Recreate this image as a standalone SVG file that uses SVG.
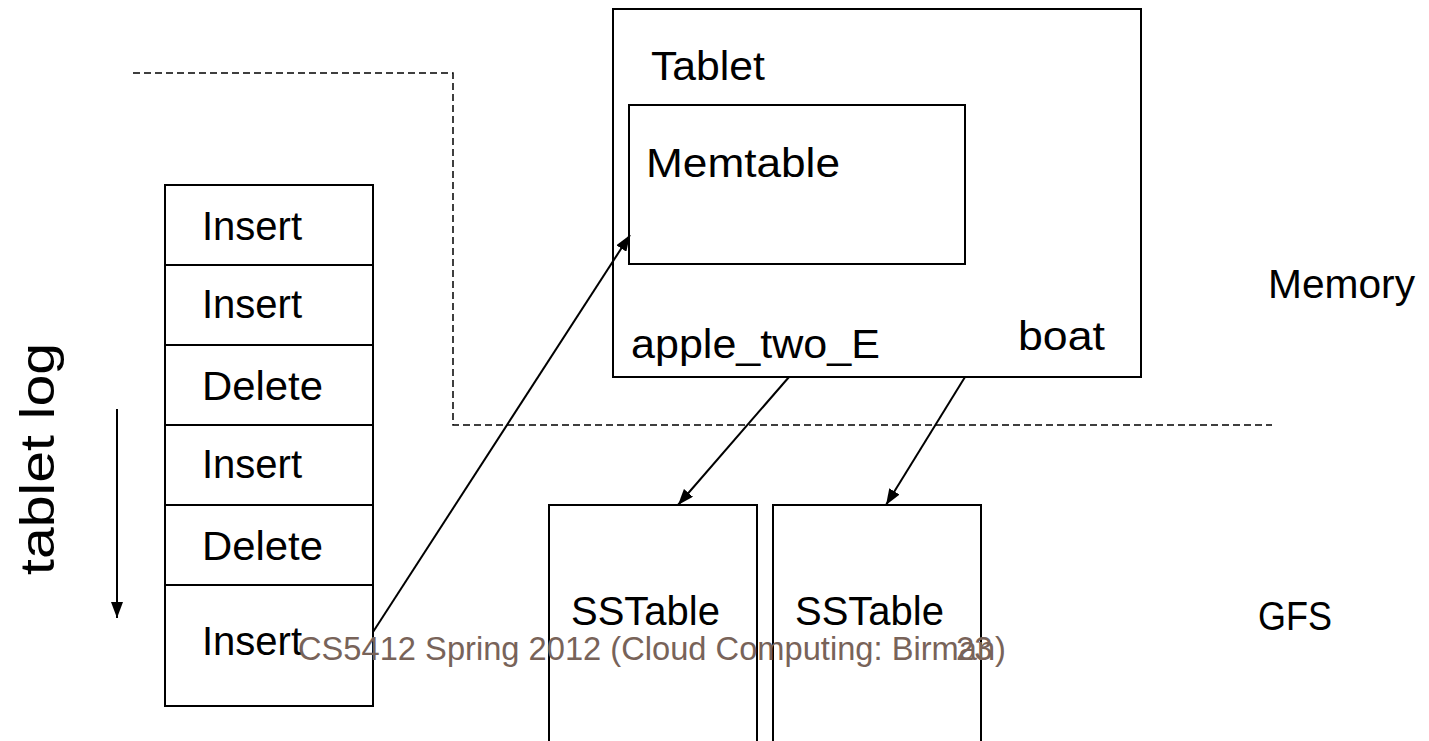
<svg xmlns="http://www.w3.org/2000/svg" width="1429" height="741" viewBox="0 0 1429 741">
<style>
.box{fill:none;stroke:#000;stroke-width:2}
.dash{fill:none;stroke:#000;stroke-width:1.5;stroke-dasharray:7 4}
.conn{fill:none;stroke:#000;stroke-width:2}
.t{font-family:"Liberation Sans",Arial,sans-serif;font-size:40px;fill:#000}
.side{font-family:"Liberation Sans",Arial,sans-serif;font-size:48px;fill:#000}
.foot{font-family:"Liberation Sans",Arial,sans-serif;font-size:33px;fill:#786359}
</style>
<defs>
<marker id="ah" viewBox="0 0 16 12" refX="16" refY="6" markerWidth="16" markerHeight="12" markerUnits="userSpaceOnUse" orient="auto">
<path d="M0,0 L16,6 L0,12 Z" fill="#000"/>
</marker>
</defs>
<rect width="1429" height="741" fill="#fff"/>
<g id="boundary">
<path class="dash" d="M133,73 H453 V425 H1272"/>
</g>
<g id="tablet-log-label">
<text class="side" transform="rotate(-90 54 575)" x="54" y="575" textLength="232" lengthAdjust="spacingAndGlyphs">tablet log</text>
</g>
<g id="log">
<rect class="box" x="165" y="185" width="208" height="521"/>
<path class="box" d="M165,265 H373 M165,345 H373 M165,425 H373 M165,505 H373 M165,585 H373"/>
<text class="t" x="202" y="240">Insert</text>
<text class="t" x="202" y="318">Insert</text>
<text class="t" x="202" y="400" textLength="121" lengthAdjust="spacingAndGlyphs">Delete</text>
<text class="t" x="202" y="478">Insert</text>
<text class="t" x="202" y="560" textLength="121" lengthAdjust="spacingAndGlyphs">Delete</text>
<text class="t" x="202" y="655">Insert</text>
</g>
<g id="tablet">
<rect class="box" x="613" y="9" width="528" height="368"/>
<text class="t" x="651" y="80" textLength="114" lengthAdjust="spacingAndGlyphs">Tablet</text>
<text class="t" x="631" y="358" textLength="249" lengthAdjust="spacingAndGlyphs">apple_two_E</text>
<text class="t" x="1018" y="350" textLength="87" lengthAdjust="spacingAndGlyphs">boat</text>
</g>
<g id="memtable">
<rect class="box" x="629" y="105" width="336" height="159"/>
<text class="t" x="646" y="177" textLength="194" lengthAdjust="spacingAndGlyphs">Memtable</text>
</g>
<g id="sstable1">
<rect class="box" x="549" y="505" width="208" height="250"/>
<text class="t" x="571" y="625">SSTable</text>
</g>
<g id="sstable2">
<rect class="box" x="773" y="505" width="208" height="250"/>
<text class="t" x="795" y="625">SSTable</text>
</g>
<g id="memory-label"><text class="t" x="1268" y="298" textLength="147" lengthAdjust="spacingAndGlyphs">Memory</text></g>
<g id="gfs-label"><text class="t" x="1258" y="630" textLength="74" lengthAdjust="spacingAndGlyphs">GFS</text></g>
<g id="connectors">
<line class="conn" x1="117" y1="409" x2="117" y2="618" marker-end="url(#ah)"/>
<line class="conn" x1="373" y1="632" x2="630" y2="235" marker-end="url(#ah)"/>
<line class="conn" x1="789" y1="377" x2="678" y2="505" marker-end="url(#ah)"/>
<line class="conn" x1="965" y1="377" x2="886" y2="505" marker-end="url(#ah)"/>
</g>
<g id="footer">
<text class="foot" x="298" y="660" textLength="708" lengthAdjust="spacingAndGlyphs">CS5412 Spring 2012 (Cloud Computing: Birman)</text>
<text class="foot" x="956" y="660">23</text>
</g>
</svg>
